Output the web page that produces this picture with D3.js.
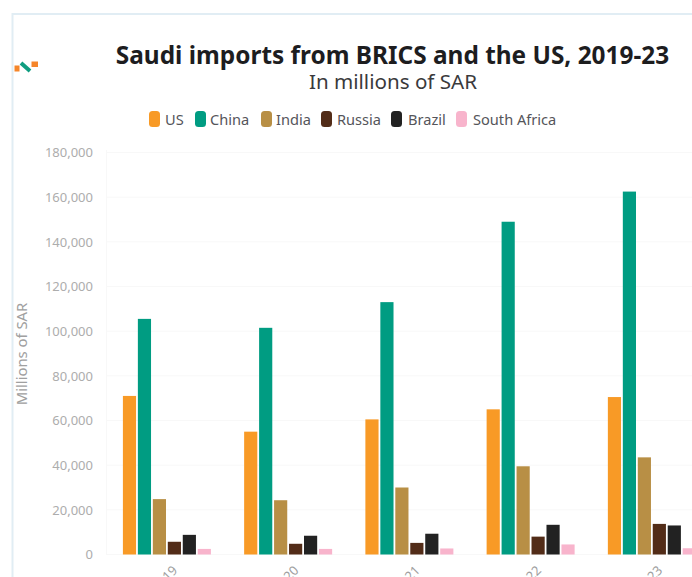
<!DOCTYPE html>
<html>
<head>
<meta charset="utf-8">
<script src="https://cdn.jsdelivr.net/npm/d3@7/dist/d3.min.js"></script>
<style>
html,body{margin:0;padding:0;background:#fff;overflow:hidden}
svg{display:block}
text{font-family:"Noto Sans",sans-serif}
</style>
</head>
<body>
<svg id="chart" width="692" height="577"></svg>
<script>
const years = ["2019","2020","2021","2022","2023"];
const seriesNames = ["US","China","India","Russia","Brazil","South Africa"];
const seriesColors = ["#f89a26","#009c82","#b88f45","#522c18","#222222","#f8b4cc"];
const us = [71000,55000,60500,65000,70500];
const china = [105500,101500,113000,149000,162500];
const india = [24800,24300,30000,39500,43500];
const russia = [5700,4800,5200,8000,13700];
const brazil = [8800,8400,9300,13300,13000];
const southAfrica = [2500,2500,2700,4500,2800];
const yTicks = [0,20000,40000,60000,80000,100000,120000,140000,160000,180000];

const series = [us,china,india,russia,brazil,southAfrica];
const svg = d3.select("#chart");

// Card border, open on the right and at the bottom
svg.append("path").attr("d","M12.5,577V14H692")
  .attr("fill","none").attr("stroke","#e1edf4").attr("stroke-width",2);

// Small brand mark beside the title
const mark = svg.append("g");
mark.append("rect").attr("x",14.5).attr("y",65.5).attr("width",5).attr("height",6).attr("fill","#f5862a");
mark.append("path").attr("d","M21,63L30,71").attr("fill","none").attr("stroke","#0f9d80").attr("stroke-width",4);
mark.append("rect").attr("x",31.5).attr("y",61.5).attr("width",6.5).attr("height",5.5).attr("fill","#f5862a");

// Titles
svg.append("text").attr("x",392.5).attr("y",64).attr("text-anchor","middle")
  .attr("font-size",24.4).attr("font-weight",700).attr("fill","#1d1d1f")
  .text("Saudi imports from BRICS and the US, 2019-23");
svg.append("text").attr("x",393).attr("y",89).attr("text-anchor","middle")
  .attr("font-size",20.6).attr("fill","#3a3a3c").text("In millions of SAR");

// Scales
const y = d3.scaleLinear().domain([0,180000]).range([554.5,152.5]);
const x0 = d3.scaleBand().domain(years).range([106.4,712.6]).paddingInner(0).paddingOuter(0);
const x1 = d3.scaleBand().domain(seriesNames).range([16.5,104.5]).paddingInner(0.12).paddingOuter(0);

// Horizontal grid lines and the left edge of the plot
svg.append("g").selectAll("line").data(yTicks).join("line")
  .attr("x1",106).attr("x2",692)
  .attr("y1",d=>y(d)).attr("y2",d=>y(d))
  .attr("stroke","#f8f8f8");
svg.append("line").attr("x1",106.5).attr("x2",106.5).attr("y1",150).attr("y2",555).attr("stroke","#f8f8f8");

// Value axis
const yAxis = svg.append("g").attr("transform","translate(106,0)")
  .call(d3.axisLeft(y).tickValues(yTicks).tickSize(0).tickPadding(13).tickFormat(d3.format(",")));
yAxis.select(".domain").remove();
yAxis.selectAll("text").attr("font-size",13).attr("fill","#adadad").style("font-family",'"Noto Sans",sans-serif');

svg.append("text").attr("transform","translate(27,354) rotate(-90)").attr("text-anchor","middle")
  .attr("font-size",14.8).attr("fill","#a0a0a0").text("Millions of SAR");

// Bars, one group per year
const groups = svg.append("g").selectAll("g").data(years).join("g")
  .attr("transform",d=>`translate(${x0(d)},0)`);
groups.selectAll("rect").data((d,i)=>seriesNames.map((s,k)=>({s,k,v:series[k][i]}))).join("rect")
  .attr("x",d=>x1(d.s)).attr("width",x1.bandwidth())
  .attr("y",d=>y(d.v)).attr("height",d=>y(0)-y(d.v))
  .attr("fill",d=>seriesColors[d.k]);

// Rotated year labels, cut off by the page bottom
groups.append("text").attr("text-anchor","end")
  .attr("transform",`translate(${x0.bandwidth()/2+8},568) rotate(-45)`)
  .attr("font-size",13).attr("fill","#a0a0a0")
  .attr("dy","0.35em").text(d=>d);

// Legend
const legendX = [149,195,261,321,391,456];
const legendLabelX = [165,210,276,337,408,473];
const legend = svg.append("g").selectAll("g").data(seriesNames).join("g");
legend.append("rect").attr("x",(d,i)=>legendX[i]).attr("y",111).attr("width",11).attr("height",16).attr("rx",3.5)
  .attr("fill",(d,i)=>seriesColors[i]);
legend.append("text").attr("x",(d,i)=>legendLabelX[i]).attr("y",124.5).attr("font-size",14.6).attr("fill","#55555a").text(d=>d);
</script>
</body>
</html>
